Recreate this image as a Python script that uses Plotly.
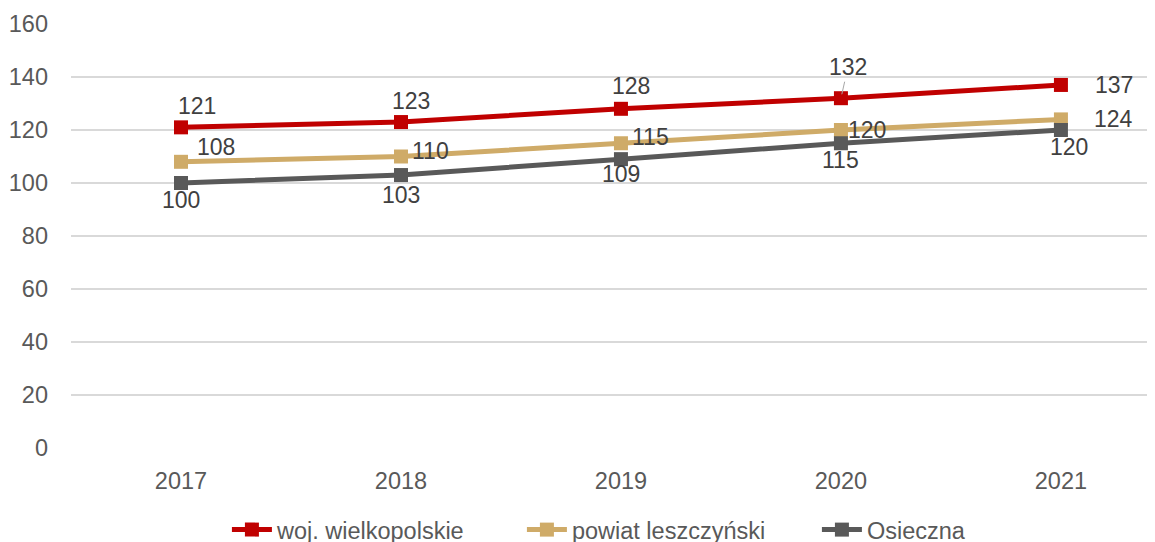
import plotly.graph_objects as go

# lata i wartości (z wykresu)
lata = ["2017", "2018", "2019", "2020", "2021"]
woj_wielkopolskie = [121, 123, 128, 132, 137]
powiat_leszczynski = [108, 110, 115, 120, 124]
osieczna = [100, 103, 109, 115, 120]

serie = [
    ("woj. wielkopolskie", woj_wielkopolskie, "#C00000"),
    ("powiat leszczyński", powiat_leszczynski, "#CFAB68"),
    ("Osieczna", osieczna, "#595959"),
]

# przesunięcia etykiet danych (w pikselach)
przes_woj = [(16, 21), (10, 21), (10, 23), (7, 31), (53, 0)]
przes_pow = [(35, 15), (30, 6), (30, 6), (26, 0), (53, 0)]
przes_osi = [(0, -17), (0, -20), (0, -15), (0, -17), (8, -17)]

fig = go.Figure()
for nazwa, wartosci, kolor in serie:
    fig.add_trace(go.Scatter(
        x=lata, y=wartosci, name=nazwa, mode="lines+markers",
        line=dict(color=kolor, width=5),
        marker=dict(symbol="square", size=14, color=kolor),
    ))

font_etykiet = dict(family="Liberation Sans, Arial", size=23, color="#404040")
for k, (wartosci, przes) in enumerate([(woj_wielkopolskie, przes_woj),
                                       (powiat_leszczynski, przes_pow),
                                       (osieczna, przes_osi)]):
    for i, v in enumerate(wartosci):
        dx, dy = przes[i]
        if k == 0 and i == 3:
            # etykieta z linią odniesienia
            fig.add_annotation(x=i, y=v, text=str(v), showarrow=True,
                               ax=dx, ay=-dy, arrowhead=0, arrowwidth=1,
                               arrowcolor="#A6A6A6", standoff=4, font=font_etykiet)
        else:
            fig.add_annotation(x=i, y=v, text=str(v), showarrow=False,
                               xshift=dx, yshift=dy, font=font_etykiet)

fig.update_layout(
    width=1155, height=542,
    margin=dict(l=63, r=0, t=16, b=102, autoexpand=False),
    plot_bgcolor="white", paper_bgcolor="white",
    font=dict(family="Liberation Sans, Arial", size=23.5, color="#595959"),
    showlegend=True,
    legend=dict(orientation="h", x=0.548, xanchor="center", y=-0.193, yanchor="middle",
                font=dict(size=23.5, color="#595959"), itemwidth=40, tracegroupgap=0,
                entrywidth=240),
)
fig.update_xaxes(type="category", range=[-0.5, 4.464], showgrid=False, showline=False,
                 ticks="", ticklabelstandoff=16, tickfont=dict(size=23.5, color="#595959"),
                 automargin=False)
fig.update_yaxes(range=[0, 160], dtick=20, showgrid=True, gridcolor="#D9D9D9", gridwidth=1.5,
                 zeroline=False, showline=False, ticks="", ticklabelstandoff=22,
                 tickfont=dict(size=23.5, color="#595959"), automargin=False)

fig.write_html("out.html")
